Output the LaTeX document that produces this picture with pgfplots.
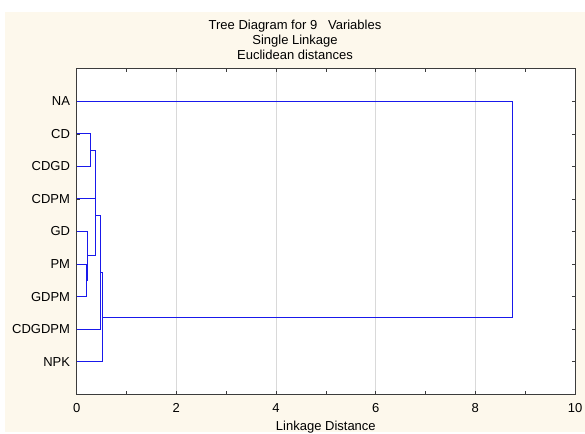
\documentclass[border=0pt]{standalone}
\usepackage{pgfplots}
\pgfplotsset{compat=1.18}
\usepackage{fontspec}
\setmainfont{Liberation Sans}

\definecolor{panel}{HTML}{FDF8EC}
\definecolor{link}{RGB}{25,25,235}
\definecolor{frame}{RGB}{60,60,60}

\newcommand{\lbl}{\fontsize{13bp}{15bp}\selectfont}

\begin{document}
\begin{tikzpicture}
  % page and panel background
  \fill[white] (0,0) rectangle (585bp,-432bp);
  \fill[panel] (5bp,-12bp) rectangle (585bp,-432bp);

  \begin{axis}[
      at={(76.7bp,-394.3bp)}, anchor=south west,
      scale only axis, width=498.3bp, height=325.6bp,
      xmin=0, xmax=10, ymin=0, ymax=10,
      axis background/.style={fill=white},
      axis line style={frame, line width=0.9bp},
      xtick={0,2,...,10}, minor xtick={1,3,...,9},
      ytick={1,...,9},
      yticklabels={NPK,CDGDPM,GDPM,PM,GD,CDPM,CDGD,CD,NA},
      tick align=inside,
      major tick length=3bp, minor tick length=3bp,
      tick style={frame, line width=0.6bp},
      xmajorgrids, grid style={gray!30, line width=0.6bp},
      /pgf/number format/assume math mode=true,
      ticklabel style={font=\lbl, inner sep=0pt},
      yticklabel style={anchor=east, xshift=-6.5bp},
      xticklabel style={anchor=north, yshift=-9bp},
      xlabel={Linkage Distance},
      xlabel style={font=\lbl, inner sep=0pt, at={(axis description cs:0.5,0)},
                    anchor=north, yshift=-27bp},
      linkstyle/.style={link, solid, line width=0.9bp, mark=none, sharp plot},
    ]
    % single-linkage merges: leaf/cluster positions and merge distances
    % CD + CDGD
    \addplot[linkstyle] coordinates {(0,8) (0.27,8) (0.27,7) (0,7)};
    % PM + GDPM
    \addplot[linkstyle] coordinates {(0,4) (0.19,4) (0.19,3) (0,3)};
    % GD + (PM,GDPM)
    \addplot[linkstyle] coordinates {(0,5) (0.21,5) (0.21,3.5) (0.19,3.5)};
    % (CD,CDGD) + CDPM
    \addplot[linkstyle] coordinates {(0.27,7.5) (0.37,7.5) (0.37,6) (0,6)};
    % (CD,CDGD,CDPM) + (GD,PM,GDPM)
    \addplot[linkstyle] coordinates {(0.37,6.75) (0.37,4.25) (0.21,4.25)};
    % ... + CDGDPM
    \addplot[linkstyle] coordinates {(0.37,5.5) (0.48,5.5) (0.48,2) (0,2)};
    % ... + NPK
    \addplot[linkstyle] coordinates {(0.48,3.75) (0.52,3.75) (0.52,1) (0,1)};
    % ... + NA
    \addplot[linkstyle] coordinates {(0.52,2.375) (8.74,2.375) (8.74,9) (0,9)};
  \end{axis}

  % title block
  \node[anchor=base, font=\lbl, inner sep=0pt] at (295bp,-29.3bp) {Tree Diagram for 9~~~Variables};
  \node[anchor=base, font=\lbl, inner sep=0pt] at (295bp,-44.6bp) {Single Linkage};
  \node[anchor=base, font=\lbl, inner sep=0pt] at (295bp,-59.3bp) {Euclidean distances};
\end{tikzpicture}
\end{document}
